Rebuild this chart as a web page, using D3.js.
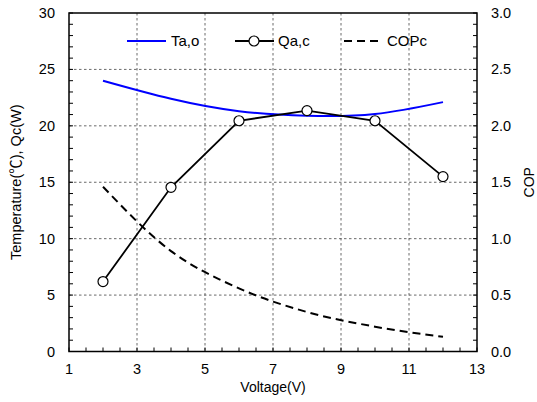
<!DOCTYPE html>
<html><head><meta charset="utf-8">
<script src="https://cdn.jsdelivr.net/npm/d3@7"></script>
<style>body{margin:0;background:#fff;} text{font-family:"Liberation Sans",Arial,sans-serif;fill:#000;}</style>
</head><body><svg id="c" width="537" height="402"></svg>
<script>
const voltage = [2, 4, 6, 8, 10, 12];
const taO = [24.0, 22.4, 21.3, 20.9, 21.05, 22.1];
const qaC = [6.2, 14.55, 20.45, 21.35, 20.45, 15.5];
const copC = [1.46, 0.89, 0.56, 0.35, 0.22, 0.13];
const xTicks = [1, 3, 5, 7, 9, 11, 13];
const yTicks = [0, 5, 10, 15, 20, 25, 30];
const y2Ticks = [0, 0.5, 1.0, 1.5, 2.0, 2.5, 3.0];

const svg = d3.select("#c");
const L = 69, R = 477, T = 13, B = 351.5;
const x = d3.scaleLinear().domain([1, 13]).range([L, R]);
const y = d3.scaleLinear().domain([0, 30]).range([B, T]);
const y2 = d3.scaleLinear().domain([0, 3]).range([B, T]);

// grid
const g = svg.append("g");
xTicks.slice(1, -1).forEach(v => g.append("line").attr("x1", x(v)).attr("x2", x(v)).attr("y1", T).attr("y2", B)
  .attr("stroke", "#444").attr("stroke-width", 0.8).attr("stroke-dasharray", "2.5,2.5"));
yTicks.slice(1, -1).forEach(v => g.append("line").attr("x1", L).attr("x2", R).attr("y1", y(v)).attr("y2", y(v))
  .attr("stroke", "#444").attr("stroke-width", 0.8).attr("stroke-dasharray", "2.5,2.5"));

// minor ticks (inward)
const tk = svg.append("g").attr("stroke", "#000").attr("stroke-width", 1);
d3.range(1, 13.01, 0.5).forEach(v => tk.append("line").attr("x1", x(v)).attr("x2", x(v)).attr("y1", B).attr("y2", B - 4));
d3.range(0, 30.01, 1).forEach(v => tk.append("line").attr("x1", L).attr("x2", L + 4).attr("y1", y(v)).attr("y2", y(v)));
d3.range(0, 3.001, 0.1).forEach(v => tk.append("line").attr("x1", R).attr("x2", R - 4).attr("y1", y2(v)).attr("y2", y2(v)));

// frame
svg.append("rect").attr("x", L).attr("y", T).attr("width", R - L).attr("height", B - T)
  .attr("fill", "none").attr("stroke", "#000").attr("stroke-width", 1.5);

// tick labels
xTicks.forEach(v => svg.append("text").attr("x", x(v)).attr("y", B + 22).attr("text-anchor", "middle").attr("font-size", 14.5).text(v));
yTicks.forEach(v => svg.append("text").attr("x", L - 14).attr("y", y(v) + 5).attr("text-anchor", "end").attr("font-size", 14.5).text(v));
y2Ticks.forEach(v => svg.append("text").attr("x", R + 14).attr("y", y2(v) + 5).attr("text-anchor", "start").attr("font-size", 14.5).text(v.toFixed(1)));

// axis titles
svg.append("text").attr("x", (L + R) / 2).attr("y", 392).attr("text-anchor", "middle").attr("font-size", 14).text("Voltage(V)");
const yt = svg.append("text").attr("transform", `translate(21,${(T + B) / 2}) rotate(-90)`).attr("text-anchor", "middle").attr("font-size", 14.5);
yt.append("tspan").text("Temperature(");
yt.append("tspan").attr("font-family", "'Noto Sans CJK SC'").text("℃");
yt.append("tspan").text("), Qc(W)");
svg.append("text").attr("transform", `translate(534,${(T + B) / 2}) rotate(-90)`).attr("text-anchor", "middle").attr("font-size", 14).text("COP");

// lines
const ta = voltage.map((v, i) => [v, taO[i]]);
const qa = voltage.map((v, i) => [v, qaC[i]]);
const cp = voltage.map((v, i) => [v, copC[i]]);
svg.append("path").datum(ta).attr("fill", "none").attr("stroke", "#0000ff").attr("stroke-width", 2)
  .attr("d", d3.line().x(d => x(d[0])).y(d => y(d[1])).curve(d3.curveNatural));
svg.append("path").datum(cp).attr("fill", "none").attr("stroke", "#000").attr("stroke-width", 2).attr("stroke-dasharray", "8,5")
  .attr("d", d3.line().x(d => x(d[0])).y(d => y2(d[1])).curve(d3.curveMonotoneX));
svg.append("path").datum(qa).attr("fill", "none").attr("stroke", "#000").attr("stroke-width", 1.8)
  .attr("d", d3.line().x(d => x(d[0])).y(d => y(d[1])));
svg.selectAll("circle.q").data(qa).enter().append("circle").attr("cx", d => x(d[0])).attr("cy", d => y(d[1])).attr("r", 5)
  .attr("fill", "#fff").attr("stroke", "#000").attr("stroke-width", 1.2);

// legend
const ly = 41;
svg.append("line").attr("x1", 127).attr("x2", 166).attr("y1", ly).attr("y2", ly).attr("stroke", "#0000ff").attr("stroke-width", 2);
svg.append("text").attr("x", 171).attr("y", ly + 5).attr("font-size", 15).text("Ta,o");
svg.append("line").attr("x1", 235).attr("x2", 274).attr("y1", ly).attr("y2", ly).attr("stroke", "#000").attr("stroke-width", 1.8);
svg.append("circle").attr("cx", 254).attr("cy", ly).attr("r", 5).attr("fill", "#fff").attr("stroke", "#000").attr("stroke-width", 1.2);
svg.append("text").attr("x", 278).attr("y", ly + 5).attr("font-size", 15).text("Qa,c");
svg.append("line").attr("x1", 344).attr("x2", 380).attr("y1", ly).attr("y2", ly).attr("stroke", "#000").attr("stroke-width", 2).attr("stroke-dasharray", "8,5");
svg.append("text").attr("x", 387).attr("y", ly + 5).attr("font-size", 15).text("COPc");
</script></body></html>
